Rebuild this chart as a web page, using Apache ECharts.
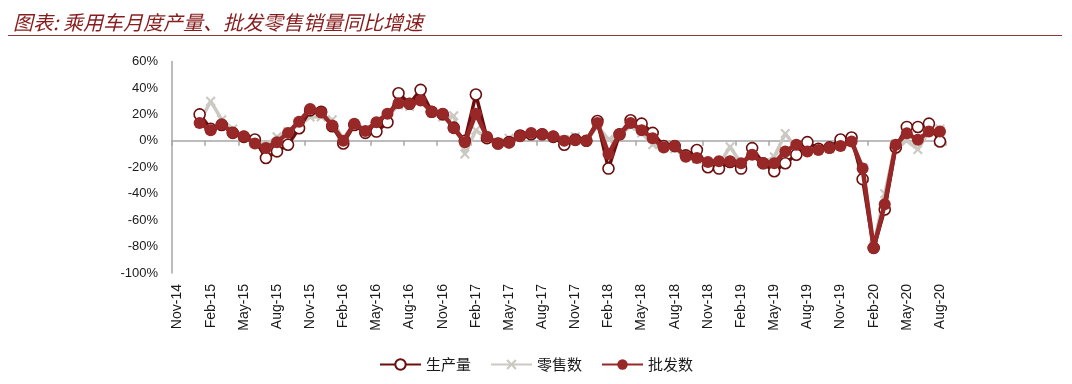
<!DOCTYPE html>
<html>
<head>
<meta charset="utf-8">
<script src="https://cdn.jsdelivr.net/npm/echarts@6/dist/echarts.min.js"></script>
<style>
html,body{margin:0;padding:0;background:#fff;}
#chart{width:1072px;height:384px;}
</style>
</head>
<body>
<div id="chart"></div>
<script>
const titleText = '图表: 乘用车月度产量、批发零售销量同比增速';
const seriesNames = ['生产量', '零售数', '批发数'];
const categories = [
  'Nov-14','Dec-14',
  'Jan-15','Feb-15','Mar-15','Apr-15','May-15','Jun-15','Jul-15','Aug-15','Sep-15','Oct-15','Nov-15','Dec-15',
  'Jan-16','Feb-16','Mar-16','Apr-16','May-16','Jun-16','Jul-16','Aug-16','Sep-16','Oct-16','Nov-16','Dec-16',
  'Jan-17','Feb-17','Mar-17','Apr-17','May-17','Jun-17','Jul-17','Aug-17','Sep-17','Oct-17','Nov-17','Dec-17',
  'Jan-18','Feb-18','Mar-18','Apr-18','May-18','Jun-18','Jul-18','Aug-18','Sep-18','Oct-18','Nov-18','Dec-18',
  'Jan-19','Feb-19','Mar-19','Apr-19','May-19','Jun-19','Jul-19','Aug-19','Sep-19','Oct-19','Nov-19','Dec-19',
  'Jan-20','Feb-20','Mar-20','Apr-20','May-20','Jun-20','Jul-20','Aug-20'
];
// 生产量 (production) YoY %
const production = [null, null,
  20, 9, 12, 6, 3, 1, -13, -8, -3, 9.5,
  23, 22, 11, -2, 12, 6, 7, 14, 36, 28,
  38.5, 22, 20, 10, 0, 35, 2, -2, -1, 4,
  5, 5, 3, -3, 1, 0, 15, -21, 5, 15.5,
  13, 6, -4, -4, -11, -7, -20, -21, -16, -21,
  -5.5, -17, -23, -17, -10.5, -1, -6, -5, 1, 2.5,
  -29, -81, -52, -5, 10.5, 10.5, 13, -0.5];
// 零售数 (retail) YoY %
const retail = [null, null,
  14, 30, 16, 9, 3, -1, -3, 3, 7, 12,
  18, 18, 16, 1, 12, 8, 12, 18, 27, 26,
  31, 21, 18, 19, -10, 8, 2, -1, 2, 4,
  5, 5, 3, 1, 3, 0, 11, 1, 4, 11,
  6, -3, -5, -6, -12, -14, -18, -18, -4.5, -17,
  -11, -17, -12, 5.5, -6, -8, -6, -6, -4, -1,
  -20, -79, -40, -2, 0, -6.5, 7, 9];
// 批发数 (wholesale) YoY %
const wholesale = [null, null,
  13.5, 8, 12.5, 6, 3.5, -2, -5.5, -1, 6, 14.5,
  24, 21.5, 11.5, 0, 13, 7.5, 14, 20.5, 28.5, 28,
  30.5, 22, 20.5, 9.5, -1, 20.5, 3, -2, -1.5, 3.5,
  6, 5, 3.5, 0, 0.5, 0, 13.5, -10, 5, 13.5,
  8, 2, -5, -4, -12, -13, -16, -15.5, -15.5, -17,
  -10.5, -17, -17, -8, -3, -8, -7, -5.5, -4, -0.5,
  -21, -81, -48, -3, 5.75, 0.75, 7, 7];
const yMin = -100, yMax = 60, yStep = 20;

const axisGray = '#a6a6a6';
const cProd = '#6b0e0e';
const cRetail = '#cbc9c2';
const cWhole = '#982828';
const xSymbol = 'path://M0,1.5L1.5,0L5,3.5L8.5,0L10,1.5L6.5,5L10,8.5L8.5,10L5,6.5L1.5,10L0,8.5L3.5,5Z';

const chart = echarts.init(document.getElementById('chart'), null, {renderer: 'canvas'});
chart.setOption({
  animation: false,
  backgroundColor: '#fff',
  textStyle: {fontFamily: 'Liberation Sans'},
  title: {
    text: titleText, left: 8, top: 7,
    textStyle: {fontStyle: 'italic', fontWeight: 'normal', fontSize: 20, color: '#861c1c', fontFamily: 'Noto Sans CJK SC'}
  },
  graphic: [{
    type: 'line', shape: {x1: 8, y1: 35.5, x2: 1062, y2: 35.5},
    style: {stroke: '#8a3a3a', lineWidth: 1.2}
  }],
  legend: {
    data: [seriesNames[0], seriesNames[1], seriesNames[2]],
    left: 'center', top: 352,
    itemWidth: 41, itemHeight: 13, itemGap: 19,
    textStyle: {fontSize: 15, color: '#1a1a1a', fontFamily: 'Noto Sans CJK SC'}
  },
  grid: {left: 172, right: 126.5, top: 61.5, bottom: 111, containLabel: false},
  xAxis: [{
    type: 'category', data: categories, boundaryGap: true, position: 'bottom',
    axisLine: {onZero: true, lineStyle: {color: axisGray, width: 1.5}},
    axisTick: {show: true, interval: 2, length: 5, lineStyle: {color: axisGray, width: 1.5}},
    axisLabel: {show: false},
    splitLine: {show: false}
  }, {
    type: 'category', data: categories, boundaryGap: true, position: 'bottom',
    axisLine: {show: false, onZero: false},
    axisTick: {show: false},
    axisLabel: {interval: 2, rotate: 90, margin: 11, fontSize: 14, color: '#1a1a1a', fontFamily: 'Liberation Sans'},
    splitLine: {show: false}
  }],
  yAxis: {
    type: 'value', min: yMin, max: yMax, interval: yStep,
    axisLine: {show: true, lineStyle: {color: axisGray, width: 1.5}},
    axisTick: {show: false},
    splitLine: {show: false},
    axisLabel: {formatter: '{value}%', fontSize: 13, margin: 14, color: '#1a1a1a', fontFamily: 'Liberation Sans'}
  },
  series: [{
    name: seriesNames[1], type: 'line', data: retail, xAxisIndex: 0,
    symbol: xSymbol, symbolSize: 10, showAllSymbol: true,
    lineStyle: {color: cRetail, width: 3.5},
    itemStyle: {color: cRetail},
    z: 2
  }, {
    name: seriesNames[0], type: 'line', data: production, xAxisIndex: 0,
    symbol: 'circle', symbolSize: 11, showAllSymbol: true,
    lineStyle: {color: cProd, width: 3.5},
    itemStyle: {color: '#ffffff', borderColor: cProd, borderWidth: 1.6},
    z: 3
  }, {
    name: seriesNames[2], type: 'line', data: wholesale, xAxisIndex: 0,
    symbol: 'circle', symbolSize: 12, showAllSymbol: true,
    lineStyle: {color: cWhole, width: 4.5},
    itemStyle: {color: cWhole},
    z: 4
  }]
});
</script>
</body>
</html>
